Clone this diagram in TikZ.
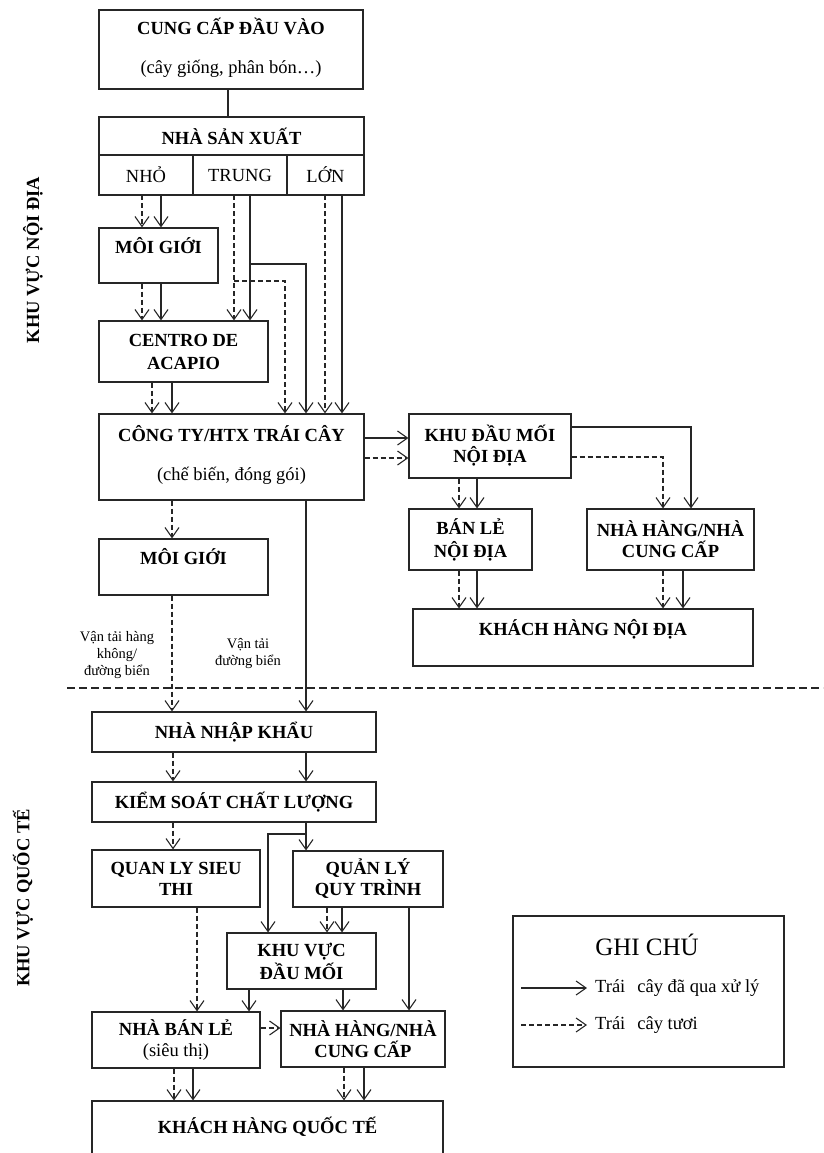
\documentclass[tikz,border=0pt]{standalone}
\usepackage{fontspec}
\setmainfont{Liberation Serif}
\usetikzlibrary{positioning, arrows.meta}

\begin{document}
\begin{tikzpicture}[x=1pt,y=-1pt,>={Straight Barb[length=10pt,width=14pt]},
    every node/.style={font=\fontsize{18.5}{21}\selectfont},
    blk/.style={draw=black!85, line width=1.1pt, inner sep=0pt, align=center,
        font=\fontsize{18.5}{21}\selectfont\bfseries},
    cell/.style={draw=black!85, line width=1.1pt, inner sep=0pt, outer sep=0pt, anchor=north west,
        minimum width=94pt, minimum height=40pt},
    pa/.style={->, draw=black!85, line width=1.1pt},
    fa/.style={->, draw=black!85, line width=1.1pt, dash pattern=on 5pt off 3pt},
    small/.style={align=center, font=\fontsize{14.5}{17}\selectfont}]
        \useasboundingbox (0,0) rectangle (823,1153);

        % Nodes: domestic side
        \node (inp) [blk, minimum width=264pt, minimum height=79pt] at (231,49.5)
            {CUNG CẤP ĐẦU VÀO\\[18pt]\mdseries (cây giống, phân bón…)\\[-14pt]\mbox{}};
        \node (prod) [blk, outer sep=0pt, minimum width=265pt, minimum height=38pt] at (231.5,136) {NHÀ SẢN XUẤT};
        \node (nho) [cell] at (prod.south west) {NHỎ};
        \node (trung) [cell] at (nho.north east) {TRUNG};
        \node (lon) [cell, minimum width=77pt] at (trung.north east) {LỚN};
        \node (moi1) [blk, minimum width=119pt, minimum height=55pt] at (158.5,255.5) {MÔI GIỚI\\\mbox{}};
        \node (centro) [blk, minimum width=169pt, minimum height=61pt] at (183.5,351.5) {CENTRO DE\\[2pt]ACAPIO};
        \node (cty) [blk, minimum width=265pt, minimum height=86pt] at (231.5,457)
            {CÔNG TY/HTX TRÁI CÂY\\[18pt]\mdseries (chế biến, đóng gói)\\[-12pt]\mbox{}};
        \node (moi2) [blk, minimum width=169pt, minimum height=56pt] at (183.5,567) {MÔI GIỚI\\\mbox{}};
        \node (kdm) [blk, minimum width=162pt, minimum height=64pt] at (490,446) {KHU ĐẦU MỐI\\NỘI ĐỊA};
        \node (ble) [blk, minimum width=123pt, minimum height=61pt] at (470.5,539.5) {BÁN LẺ\\[2pt]NỘI ĐỊA};
        \node (nhd) [blk, minimum width=167pt, minimum height=61pt] at (670.5,539.5) {NHÀ HÀNG/NHÀ\\CUNG CẤP};
        \node (khnd) [blk, minimum width=340pt, minimum height=57pt] at (583,637.5) {KHÁCH HÀNG NỘI ĐỊA\\\mbox{}};

        % Nodes: international side
        \node (nnk) [blk, minimum width=284pt, minimum height=40pt] at (234,732) {NHÀ NHẬP KHẨU};
        \node (ksc) [blk, minimum width=284pt, minimum height=40pt] at (234,802) {KIỂM SOÁT CHẤT LƯỢNG};
        \node (qlst) [blk, minimum width=168pt, minimum height=57pt] at (176,878.5) {QUAN LY SIEU\\THI};
        \node (qlqt) [blk, minimum width=150pt, minimum height=56pt] at (368,879) {QUẢN LÝ\\QUY TRÌNH};
        \node (kvdm) [blk, minimum width=149pt, minimum height=56pt] at (301.5,961) {KHU VỰC\\[2pt]ĐẦU MỐI};
        \node (nbl) [blk, minimum width=168pt, minimum height=56pt] at (176,1040) {NHÀ BÁN LẺ\\\mdseries(siêu thị)};
        \node (nhq) [blk, minimum width=164pt, minimum height=56pt] at (363,1039) {NHÀ HÀNG/NHÀ\\CUNG CẤP};
        \node (khqt) [blk, minimum width=351pt, minimum height=70pt] at (267.5,1136) {KHÁCH HÀNG QUỐC TẾ\\\mbox{}};

        % Side labels and transport notes
        \node (dom) [rotate=90, font=\fontsize{18.5}{21}\selectfont\bfseries] at (33,260) {KHU VỰC NỘI ĐỊA};
        \node (intl) [rotate=90, font=\fontsize{18.5}{21}\selectfont\bfseries] at (23,898) {KHU VỰC QUỐC TẾ};
        \node (air) [small] at (117,655) {Vận tải hàng\\không/\\đường biển};
        \node (sea) [small] at (248,653.5) {Vận tải\\đường biển};
        \coordinate (sepL) at (67,688);
        \coordinate (sepR) at (823,688);
        \draw[draw=black!85, line width=1.1pt, dash pattern=on 8pt off 4pt] (sepL) -- (sepR);

        % Legend
        \node (note) [draw=black!85, line width=1.1pt, minimum width=271pt, minimum height=151pt] at (648.5,991.5) {};
        \node (notetitle) [font=\fontsize{25}{28}\selectfont] at (647,945) {GHI CHÚ};
        \node (lgp) [anchor=west, inner xsep=8pt] at (587,988) {Trái\hspace{12pt}cây đã qua xử lý};
        \node (lgf) [anchor=west, inner xsep=8pt] at (587,1025) {Trái\hspace{12pt}cây tươi};
        \coordinate (lgp0) at (521,988);
        \coordinate (lgf0) at (521,1025);
        \draw[pa] (lgp0) -- (lgp.west);
        \draw[fa] (lgf0) -- (lgf.west);

        % Arrows: domestic
        \draw[draw=black!85, line width=1.1pt] (228,0 |- inp.south) -- (228,0 |- prod.north);
        \draw[fa] (142,0 |- nho.south) -- (142,0 |- moi1.north);
        \draw[pa] (161,0 |- nho.south) -- (161,0 |- moi1.north);
        \draw[fa] (142,0 |- moi1.south) -- (142,0 |- centro.north);
        \draw[pa] (161,0 |- moi1.south) -- (161,0 |- centro.north);
        \draw[fa] (234,0 |- trung.south) -- (234,0 |- centro.north);
        \draw[pa] (250,0 |- trung.south) -- (250,0 |- centro.north);
        \coordinate (jt) at (250,264);
        \coordinate (jtf) at (234,281);
        \draw[pa] (jt) -| (306,0 |- cty.north);
        \draw[fa] (jtf) -| (285,0 |- cty.north);
        \draw[fa] (325,0 |- lon.south) -- (325,0 |- cty.north);
        \draw[pa] (342,0 |- lon.south) -- (342,0 |- cty.north);
        \draw[fa] (152,0 |- centro.south) -- (152,0 |- cty.north);
        \draw[pa] (172,0 |- centro.south) -- (172,0 |- cty.north);
        \draw[pa] (cty.east |- 0,438) -- (kdm.west |- 0,438);
        \draw[fa] (cty.east |- 0,458) -- (kdm.west |- 0,458);
        \draw[fa] (172,0 |- cty.south) -- (172,0 |- moi2.north);
        \draw[fa] (459,0 |- kdm.south) -- (459,0 |- ble.north);
        \draw[pa] (477,0 |- kdm.south) -- (477,0 |- ble.north);
        \draw[pa] (kdm.east |- 0,427) -| (691,0 |- nhd.north);
        \draw[fa] (kdm.east |- 0,457) -| (663,0 |- nhd.north);
        \draw[fa] (459,0 |- ble.south) -- (459,0 |- khnd.north);
        \draw[pa] (477,0 |- ble.south) -- (477,0 |- khnd.north);
        \draw[fa] (663,0 |- nhd.south) -- (663,0 |- khnd.north);
        \draw[pa] (683,0 |- nhd.south) -- (683,0 |- khnd.north);

        % Arrows: export and international
        \draw[fa] (172,0 |- moi2.south) -- (172,0 |- nnk.north);
        \draw[pa] (306,0 |- cty.south) -- (306,0 |- nnk.north);
        \draw[fa] (173,0 |- nnk.south) -- (173,0 |- ksc.north);
        \draw[pa] (306,0 |- nnk.south) -- (306,0 |- ksc.north);
        \draw[fa] (173,0 |- ksc.south) -- (173,0 |- qlst.north);
        \draw[pa] (306,0 |- ksc.south) -- (306,0 |- qlqt.north);
        \coordinate (jk) at (306,834);
        \draw[pa] (jk) -| (268,0 |- kvdm.north);
        \draw[fa] (327,0 |- qlqt.south) -- (327,0 |- kvdm.north);
        \draw[pa] (342,0 |- qlqt.south) -- (342,0 |- kvdm.north);
        \draw[pa] (409,0 |- qlqt.south) -- (409,0 |- nhq.north);
        \draw[fa] (197,0 |- qlst.south) -- (197,0 |- nbl.north);
        \draw[pa] (249,0 |- kvdm.south) -- (249,0 |- nbl.north);
        \draw[pa] (343,0 |- kvdm.south) -- (343,0 |- nhq.north);
        \draw[fa] (nbl.east |- 0,1028) -- (nhq.west |- 0,1028);
        \draw[fa] (174,0 |- nbl.south) -- (174,0 |- khqt.north);
        \draw[pa] (193,0 |- nbl.south) -- (193,0 |- khqt.north);
        \draw[fa] (344,0 |- nhq.south) -- (344,0 |- khqt.north);
        \draw[pa] (364,0 |- nhq.south) -- (364,0 |- khqt.north);

\end{tikzpicture}
\end{document}
